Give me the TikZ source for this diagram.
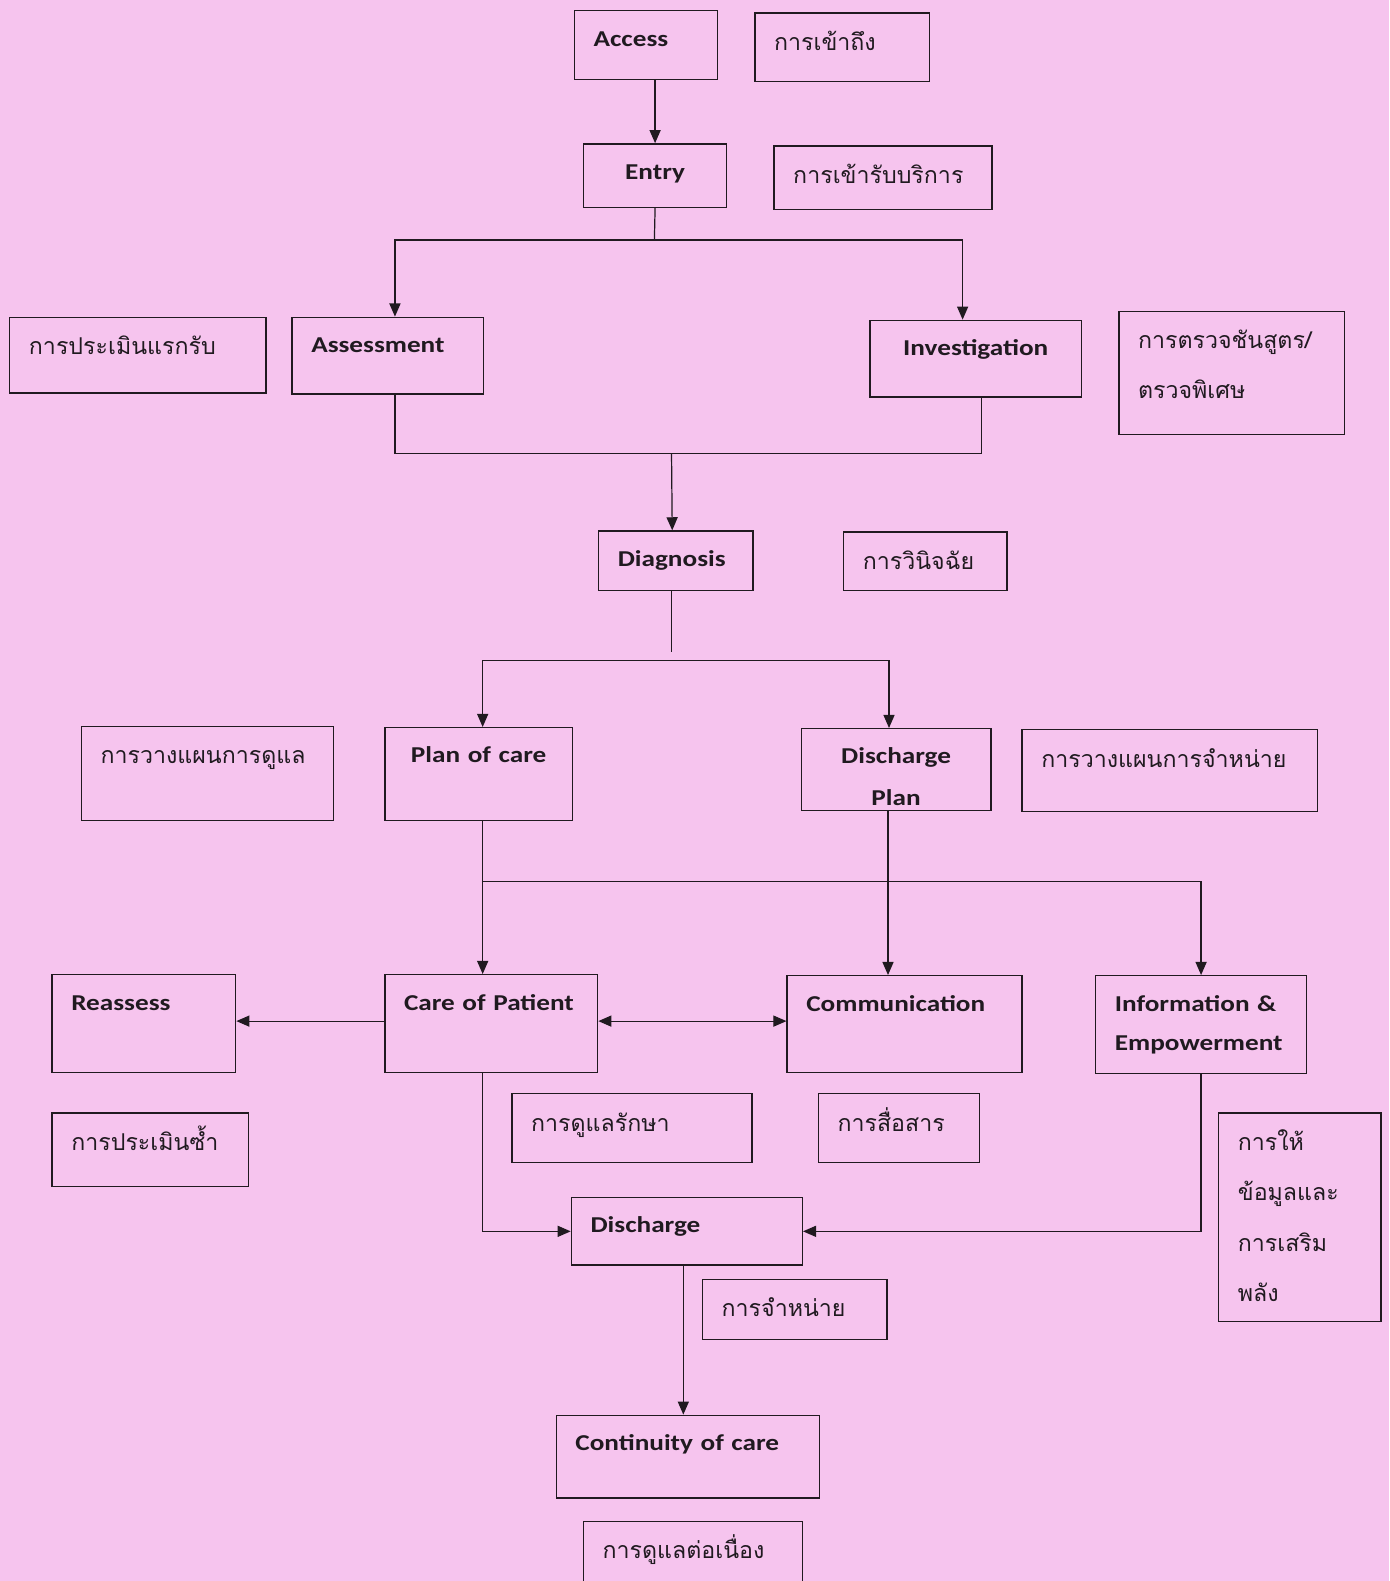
\documentclass[tikz,border=0pt]{standalone}
\usepackage{fontspec}
\setmainfont{Carlito}[FakeStretch=1.2]
\newfontfamily\thai[Script=Thai]{Loma}
\usetikzlibrary{positioning,calc,arrows.meta}
\definecolor{bgpink}{RGB}{246,196,238}
\definecolor{ink}{RGB}{32,26,32}

\tikzset{
  box/.style 2 args={draw=ink, line width=1.4pt, anchor=north west, inner xsep=19pt, inner ysep=0pt,
    minimum width=#1pt, text width=#1pt-38pt, text height=35pt, text depth=#2pt-35pt, align=left,
    text=ink, font=\fontsize{22.5}{39}\selectfont\bfseries},
  thbox/.style 2 args={box={#1}{#2}, text height=37pt, text depth=#2pt-37pt,
    font=\fontsize{23}{50}\selectfont\thai},
  link/.style={draw=ink, line width=1.2pt},
  >={Triangle[length=13pt,width=11pt]}
}

\begin{document}
\begin{tikzpicture}[x=1pt, y=-1pt]
        \fill[bgpink] (0,0) rectangle (1378,1568);
        \useasboundingbox (0,0) rectangle (1378,1568);
        \node[box={142}{68}] (acc) at (569,10) {Access};
        \node[thbox={173}{68}] (accT) at (748,12) {การเข้าถึง};
        \node[box={142}{63}, align=center] (ent) at (578,142) {Entry};
        \node[thbox={216}{63}] (entT) at (767,144) {การเข้ารับบริการ};
        \node[thbox={254}{75}] (assT) at (9,314) {การประเมินแรกรับ};
        \node[box={190}{76}] (ass) at (289,314) {Assessment};
        \node[box={210}{76}, align=center] (inv) at (862,317) {Investigation};
        \node[thbox={224}{122}] (invT) at (1109,308) {การตรวจชันสูตร/\\ตรวจพิเศษ};
        \node[box={153}{59}] (dia) at (593,526) {Diagnosis};
        \node[thbox={162}{58}] (diaT) at (836,527) {การวินิจฉัย};
        \node[thbox={250}{93}] (pocT) at (80,720) {การวางแผนการดูแล};
        \node[box={186}{92}, align=center] (poc) at (381,721) {Plan of care};
        \node[box={188}{81}, align=center, font=\fontsize{22.5}{41}\selectfont\bfseries] (dpl) at (794,722) {Discharge\\Plan};
        \node[thbox={293}{81}] (dplT) at (1013,723) {การวางแผนการจำหน่าย};
        \node[box={182}{97}] (rea) at (51,966) {Reassess};
        \node[box={211}{97}] (cop) at (381,966) {Care of Patient};
        \node[box={233}{96}] (com) at (780,967) {Communication};
        \node[box={209}{97}] (inf) at (1086,967) {Information \&\\Empowerment};
        \node[thbox={195}{73}] (reaT) at (51,1103) {การประเมินซ้ำ};
        \node[thbox={238}{68}] (copT) at (507,1084) {การดูแลรักษา};
        \node[thbox={160}{68}] (comT) at (811,1084) {การสื่อสาร};
        \node[thbox={161}{207}] (infT) at (1208,1103) {การให้\\ข้อมูลและ\\การเสริม\\พลัง};
        \node[box={229}{67}] (dis) at (566,1187) {Discharge};
        \node[thbox={183}{60}] (disT) at (696,1268) {การจำหน่าย};
        \node[box={261}{82}] (con) at (551,1403) {Continuity of care};
        \node[thbox={217}{100}] (conT) at (578,1508) {การดูแลต่อเนื่อง};
        \coordinate (split1) at (649,238);
        \coordinate (join1) at (666,450);
        \coordinate (split2) at (665,655);
        \coordinate (split3) at (478,874);
        \draw[link,->] (acc.south -| ent.north) -- (ent.north);
        \draw[link] (ent.south) -- (split1);
        \draw[link,->] (split1) -| ([xshift=7pt]ass.north);
        \draw[link,->] (split1) -| ([xshift=-13pt]inv.north);
        \draw[link] ([xshift=7pt]ass.south) |- (join1) -| ([xshift=6pt]inv.south);
        \draw[link,->] (join1) -- ([xshift=-3.5pt]dia.north);
        \draw[link] ([xshift=-4.5pt]dia.south) -- ++(0,60);
        \draw[link,->] (split2) -| ([xshift=4pt]poc.north);
        \draw[link,->] (split2) -| ([xshift=-7pt]dpl.north);
        \draw[link,->] ([xshift=4pt]poc.south) -- ([xshift=-8.5pt]cop.north);
        \draw[link,->] (split3) -| (inf.north);
        \draw[link,->] ([xshift=-8pt]dpl.south) -- ([xshift=-16.5pt]com.north);
        \draw[link,->] ([yshift=2.5pt]cop.west) -- ([yshift=2.5pt]cop.west -| rea.east);
        \draw[link,<->] ([yshift=2.5pt]cop.east) -- ([yshift=2.5pt]cop.east -| com.west);
        \draw[link,->] ([xshift=-8.5pt]cop.south) |- (dis.west);
        \draw[link,->] (inf.south) |- (dis.east);
        \draw[link,->] ([xshift=-3.5pt]dis.south) -- ([xshift=-3.5pt]dis.south |- con.north);
\end{tikzpicture}
\end{document}
